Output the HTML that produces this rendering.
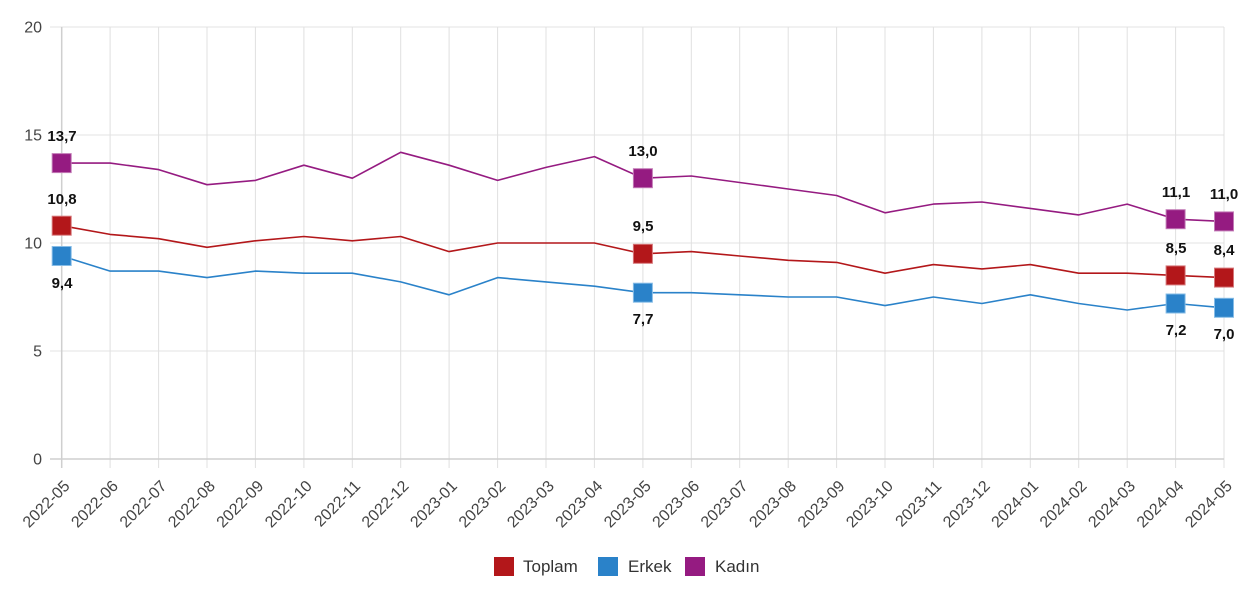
<!DOCTYPE html>
<html><head><meta charset="utf-8"><style>
html,body{margin:0;padding:0;background:#fff;}
svg{display:block;font-family:"Liberation Sans",Arial,sans-serif;}
</style></head><body>
<svg width="1253" height="600" viewBox="0 0 1253 600" xmlns="http://www.w3.org/2000/svg">
<rect width="1253" height="600" fill="#fff"/>
<g stroke="#e3e3e3" stroke-width="1">
<line x1="50" y1="27" x2="1224" y2="27"/>
<line x1="50" y1="135" x2="1224" y2="135"/>
<line x1="50" y1="243" x2="1224" y2="243"/>
<line x1="50" y1="351" x2="1224" y2="351"/>
</g>
<g stroke="#e0e0e0" stroke-width="1">
<line x1="110.1" y1="27" x2="110.1" y2="468"/><line x1="158.6" y1="27" x2="158.6" y2="468"/><line x1="207" y1="27" x2="207" y2="468"/><line x1="255.4" y1="27" x2="255.4" y2="468"/><line x1="303.9" y1="27" x2="303.9" y2="468"/><line x1="352.3" y1="27" x2="352.3" y2="468"/><line x1="400.7" y1="27" x2="400.7" y2="468"/><line x1="449.1" y1="27" x2="449.1" y2="468"/><line x1="497.6" y1="27" x2="497.6" y2="468"/><line x1="546" y1="27" x2="546" y2="468"/><line x1="594.4" y1="27" x2="594.4" y2="468"/><line x1="642.9" y1="27" x2="642.9" y2="468"/><line x1="691.3" y1="27" x2="691.3" y2="468"/><line x1="739.7" y1="27" x2="739.7" y2="468"/><line x1="788.2" y1="27" x2="788.2" y2="468"/><line x1="836.6" y1="27" x2="836.6" y2="468"/><line x1="885" y1="27" x2="885" y2="468"/><line x1="933.4" y1="27" x2="933.4" y2="468"/><line x1="981.9" y1="27" x2="981.9" y2="468"/><line x1="1030.3" y1="27" x2="1030.3" y2="468"/><line x1="1078.7" y1="27" x2="1078.7" y2="468"/><line x1="1127.2" y1="27" x2="1127.2" y2="468"/><line x1="1175.6" y1="27" x2="1175.6" y2="468"/><line x1="1224" y1="27" x2="1224" y2="468"/>
</g>
<line x1="61.7" y1="27" x2="61.7" y2="468" stroke="#cfcfcf" stroke-width="1.5"/>
<line x1="50" y1="459" x2="1224" y2="459" stroke="#cfcfcf" stroke-width="1.5"/>
<g font-size="16" fill="#444" text-anchor="end">
<text x="42" y="32.5">20</text>
<text x="42" y="140.5">15</text>
<text x="42" y="248.5">10</text>
<text x="42" y="356.5">5</text>
<text x="42" y="464.5">0</text>
</g>
<g font-size="16" fill="#444" text-anchor="end">
<text transform="translate(70.7,487) rotate(-45)">2022-05</text>
<text transform="translate(119.1,487) rotate(-45)">2022-06</text>
<text transform="translate(167.6,487) rotate(-45)">2022-07</text>
<text transform="translate(216,487) rotate(-45)">2022-08</text>
<text transform="translate(264.4,487) rotate(-45)">2022-09</text>
<text transform="translate(312.9,487) rotate(-45)">2022-10</text>
<text transform="translate(361.3,487) rotate(-45)">2022-11</text>
<text transform="translate(409.7,487) rotate(-45)">2022-12</text>
<text transform="translate(458.1,487) rotate(-45)">2023-01</text>
<text transform="translate(506.6,487) rotate(-45)">2023-02</text>
<text transform="translate(555,487) rotate(-45)">2023-03</text>
<text transform="translate(603.4,487) rotate(-45)">2023-04</text>
<text transform="translate(651.9,487) rotate(-45)">2023-05</text>
<text transform="translate(700.3,487) rotate(-45)">2023-06</text>
<text transform="translate(748.7,487) rotate(-45)">2023-07</text>
<text transform="translate(797.2,487) rotate(-45)">2023-08</text>
<text transform="translate(845.6,487) rotate(-45)">2023-09</text>
<text transform="translate(894,487) rotate(-45)">2023-10</text>
<text transform="translate(942.4,487) rotate(-45)">2023-11</text>
<text transform="translate(990.9,487) rotate(-45)">2023-12</text>
<text transform="translate(1039.3,487) rotate(-45)">2024-01</text>
<text transform="translate(1087.7,487) rotate(-45)">2024-02</text>
<text transform="translate(1136.2,487) rotate(-45)">2024-03</text>
<text transform="translate(1184.6,487) rotate(-45)">2024-04</text>
<text transform="translate(1233,487) rotate(-45)">2024-05</text>
</g>
<g fill="none" stroke-width="1.6" stroke-linejoin="round">
<polyline stroke="#951B81" points="61.7,163.1 110.1,163.1 158.6,169.6 207,184.7 255.4,180.4 303.9,165.2 352.3,178.2 400.7,152.3 449.1,165.2 497.6,180.4 546,167.4 594.4,156.6 642.9,178.2 691.3,176 739.7,182.5 788.2,189 836.6,195.5 885,212.8 933.4,204.1 981.9,202 1030.3,208.4 1078.7,214.9 1127.2,204.1 1175.6,219.2 1224,221.4"/>
<polyline stroke="#B3171A" points="61.7,225.7 110.1,234.4 158.6,238.7 207,247.3 255.4,240.8 303.9,236.5 352.3,240.8 400.7,236.5 449.1,251.6 497.6,243 546,243 594.4,243 642.9,253.8 691.3,251.6 739.7,256 788.2,260.3 836.6,262.4 885,273.2 933.4,264.6 981.9,268.9 1030.3,264.6 1078.7,273.2 1127.2,273.2 1175.6,275.4 1224,277.6"/>
<polyline stroke="#2A82C9" points="61.7,256 110.1,271.1 158.6,271.1 207,277.6 255.4,271.1 303.9,273.2 352.3,273.2 400.7,281.9 449.1,294.8 497.6,277.6 546,281.9 594.4,286.2 642.9,292.7 691.3,292.7 739.7,294.8 788.2,297 836.6,297 885,305.6 933.4,297 981.9,303.5 1030.3,294.8 1078.7,303.5 1127.2,310 1175.6,303.5 1224,307.8"/>
</g>
<g stroke-width="1">
<g fill="#951B81" stroke="#c27ab6">
<rect x="52.2" y="153.6" width="19" height="19"/>
<rect x="633.4" y="168.7" width="19" height="19"/>
<rect x="1166.1" y="209.7" width="19" height="19"/>
<rect x="1214.5" y="211.9" width="19" height="19"/>
</g>
<g fill="#B3171A" stroke="#d6777a">
<rect x="52.2" y="216.2" width="19" height="19"/>
<rect x="633.4" y="244.3" width="19" height="19"/>
<rect x="1166.1" y="265.9" width="19" height="19"/>
<rect x="1214.5" y="268.1" width="19" height="19"/>
</g>
<g fill="#2A82C9" stroke="#86bce6">
<rect x="52.2" y="246.5" width="19" height="19"/>
<rect x="633.4" y="283.2" width="19" height="19"/>
<rect x="1166.1" y="294" width="19" height="19"/>
<rect x="1214.5" y="298.3" width="19" height="19"/>
</g>
</g>
<g font-size="15" font-weight="bold" fill="#111" text-anchor="middle">
<text x="62" y="141">13,7</text>
<text x="62" y="204">10,8</text>
<text x="62" y="288">9,4</text>
<text x="643" y="156">13,0</text>
<text x="643" y="231">9,5</text>
<text x="643" y="324">7,7</text>
<text x="1176" y="197">11,1</text>
<text x="1176" y="253">8,5</text>
<text x="1176" y="335">7,2</text>
<text x="1224" y="199">11,0</text>
<text x="1224" y="255">8,4</text>
<text x="1224" y="339">7,0</text>
</g>
<g font-size="17" fill="#333">
<rect x="494" y="557" width="20" height="19" fill="#B3171A"/>
<text x="523" y="572">Toplam</text>
<rect x="598" y="557" width="20" height="19" fill="#2A82C9"/>
<text x="628" y="572">Erkek</text>
<rect x="685" y="557" width="20" height="19" fill="#951B81"/>
<text x="715" y="572">Kadın</text>
</g>
</svg>
</body></html>
